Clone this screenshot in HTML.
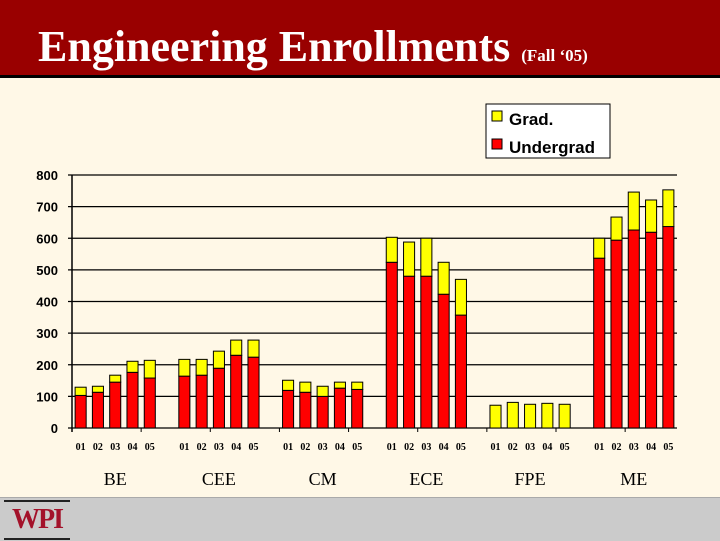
<!DOCTYPE html>
<html><head><meta charset="utf-8"><style>
body{margin:0;width:720px;height:540px;overflow:hidden;background:#FFF8E7;font-family:"Liberation Serif",serif}
#hdr{position:absolute;left:0;top:0;width:720px;height:75px;background:#990000;border-bottom:3px solid #000}
#title{position:absolute;left:38px;top:22px;color:#fff;font-weight:bold;font-size:44px;line-height:50px;white-space:nowrap}
#title span{font-size:17px}
#foot{position:absolute;left:0;top:497px;width:720px;height:43px;background:#cbcbcb;border-top:1px solid #aaa}
#logo{position:absolute;left:4px;top:500px;width:66px;height:36px;border-top:2px solid #222;border-bottom:2px solid #222;color:#a3122a;font-weight:bold;font-size:28px;line-height:36px;text-align:center;letter-spacing:-2px}
svg{position:absolute;left:0;top:0}
</style></head><body>
<div id="hdr"><div id="title">Engineering Enrollments <span>(Fall ‘05)</span></div></div>
<div id="foot"></div>
<div id="logo">WPI</div>
<svg id="chart" width="720" height="540"></svg>
<script>
const groups=["BE","CEE","CM","ECE","FPE","ME"];
const years=["01","02","03","04","05"];
const undergrad=[103,113,145,176,158, 164,167,189,230,224, 119,113,100,126,122, 524,480,480,423,357, 0,0,0,0,0, 537,594,626,619,637];
const grad=[26,19,22,35,56, 53,50,54,48,54, 32,32,32,19,23, 79,108,120,101,113, 72,81,75,78,75, 63,73,120,102,116];
const yTicks=[0,100,200,300,400,500,600,700,800];

const NS="http://www.w3.org/2000/svg";
const svg=document.getElementById('chart');
const x0=72,x1=677,y0=428,y1=175,yMax=800,nSlots=35;
const slot=(x1-x0)/nSlots;
const Y=v=>y0-(v/yMax)*(y0-y1);
const slotIndex=(g,i)=>g*6+i;
const X=(g,i)=>x0+slotIndex(g,i)*slot;
function mk(tag,attrs,txt){const e=document.createElementNS(NS,tag);for(const k in attrs)e.setAttribute(k,attrs[k]);if(txt!==undefined)e.textContent=txt;svg.appendChild(e);return e;}

yTicks.forEach(t=>{
  const l=mk('line',{x1:x0-4,x2:x1,y1:Y(t),y2:Y(t),stroke:'#000','stroke-width':1.3});
  
  
  const tx=mk('text',{x:x0-14,y:Y(t)+5,'text-anchor':'end','font-family':'Liberation Sans, sans-serif','font-size':13,'font-weight':'bold'},t);
  
  
});
const ax=mk('line',{x1:x0,x2:x0,y1:y1,y2:y0+4,stroke:'#000','stroke-width':1.5});


for(let k=0;k<=nSlots;k+=4){
  const tk=mk('line',{x1:x0+k*slot,x2:x0+k*slot,y1:y0,y2:y0+4,stroke:'#000'});
  
  
}
const bw=slot*0.64;
groups.forEach((gname,g)=>{
  years.forEach((yr,i)=>{
    const idx=g*5+i;
    const cx=X(g,i)+slot/2;
    const u=undergrad[idx],gr=grad[idx];
    if(u>0){
      const r=mk('rect',{x:cx-bw/2,y:Y(u),width:bw,height:y0-Y(u),fill:'#ff0000',stroke:'#000','stroke-width':1});
      
      
    }
    const r2=mk('rect',{x:cx-bw/2,y:Y(u+gr),width:bw,height:Y(u)-Y(u+gr),fill:'#ffff00',stroke:'#000','stroke-width':1});
    
    
    const t=mk('text',{x:cx,y:y0+22,'text-anchor':'middle','font-size':10,'font-weight':'bold'},yr);
    
    
  });
  const gc=X(g,2)+slot/2;
  const gl=mk('text',{x:gc,y:485,'text-anchor':'middle','font-size':18},gname);
  
  
});
const lb=mk('rect',{x:486,y:104,width:124,height:54,fill:'#fff',stroke:'#000','stroke-width':1});


[['Grad.','#ffff00',119],['Undergrad','#ff0000',147]].forEach(([n,c,y])=>{
  const s=mk('rect',{x:492,y:y-8,width:10,height:10,fill:c,stroke:'#000'});
  
  
  const t=mk('text',{x:509,y:y+6,'font-family':'Liberation Sans, sans-serif','font-size':17,'font-weight':'bold'},n);
  
  
});
</script>
</body></html>
